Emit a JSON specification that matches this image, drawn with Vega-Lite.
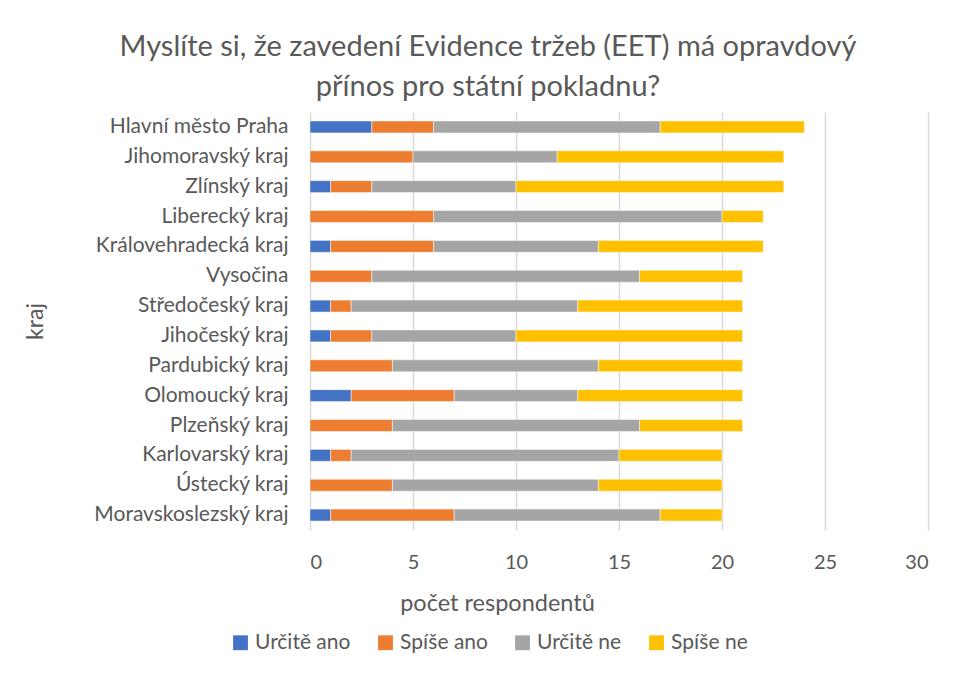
{
  "$schema": "https://vega.github.io/schema/vega-lite/v6.json",
  "width": 618,
  "height": 418,
  "autosize": {"type": "none"},
  "padding": {"left": 310, "top": 112, "right": 27, "bottom": 148},
  "background": "white",
  "title": {
    "text": ["Myslíte si, že zavedení Evidence tržeb (EET) má opravdový", "přínos pro státní pokladnu?"],
    "fontSize": 29,
    "font": "Lato",
    "fontWeight": "normal",
    "color": "#595959",
    "lineHeight": 40,
    "anchor": "middle",
    "dx": -131,
    "offset": 10
  },
  "data": {
    "values": [
      {"kraj": "Hlavní město Praha", "odpoved": "Určitě ano", "o": 1, "n": 3},
      {"kraj": "Hlavní město Praha", "odpoved": "Spíše ano", "o": 2, "n": 3},
      {"kraj": "Hlavní město Praha", "odpoved": "Určitě ne", "o": 3, "n": 11},
      {"kraj": "Hlavní město Praha", "odpoved": "Spíše ne", "o": 4, "n": 7},
      {"kraj": "Jihomoravský kraj", "odpoved": "Určitě ano", "o": 1, "n": 0},
      {"kraj": "Jihomoravský kraj", "odpoved": "Spíše ano", "o": 2, "n": 5},
      {"kraj": "Jihomoravský kraj", "odpoved": "Určitě ne", "o": 3, "n": 7},
      {"kraj": "Jihomoravský kraj", "odpoved": "Spíše ne", "o": 4, "n": 11},
      {"kraj": "Zlínský kraj", "odpoved": "Určitě ano", "o": 1, "n": 1},
      {"kraj": "Zlínský kraj", "odpoved": "Spíše ano", "o": 2, "n": 2},
      {"kraj": "Zlínský kraj", "odpoved": "Určitě ne", "o": 3, "n": 7},
      {"kraj": "Zlínský kraj", "odpoved": "Spíše ne", "o": 4, "n": 13},
      {"kraj": "Liberecký kraj", "odpoved": "Určitě ano", "o": 1, "n": 0},
      {"kraj": "Liberecký kraj", "odpoved": "Spíše ano", "o": 2, "n": 6},
      {"kraj": "Liberecký kraj", "odpoved": "Určitě ne", "o": 3, "n": 14},
      {"kraj": "Liberecký kraj", "odpoved": "Spíše ne", "o": 4, "n": 2},
      {"kraj": "Královehradecká kraj", "odpoved": "Určitě ano", "o": 1, "n": 1},
      {"kraj": "Královehradecká kraj", "odpoved": "Spíše ano", "o": 2, "n": 5},
      {"kraj": "Královehradecká kraj", "odpoved": "Určitě ne", "o": 3, "n": 8},
      {"kraj": "Královehradecká kraj", "odpoved": "Spíše ne", "o": 4, "n": 8},
      {"kraj": "Vysočina", "odpoved": "Určitě ano", "o": 1, "n": 0},
      {"kraj": "Vysočina", "odpoved": "Spíše ano", "o": 2, "n": 3},
      {"kraj": "Vysočina", "odpoved": "Určitě ne", "o": 3, "n": 13},
      {"kraj": "Vysočina", "odpoved": "Spíše ne", "o": 4, "n": 5},
      {"kraj": "Středočeský kraj", "odpoved": "Určitě ano", "o": 1, "n": 1},
      {"kraj": "Středočeský kraj", "odpoved": "Spíše ano", "o": 2, "n": 1},
      {"kraj": "Středočeský kraj", "odpoved": "Určitě ne", "o": 3, "n": 11},
      {"kraj": "Středočeský kraj", "odpoved": "Spíše ne", "o": 4, "n": 8},
      {"kraj": "Jihočeský kraj", "odpoved": "Určitě ano", "o": 1, "n": 1},
      {"kraj": "Jihočeský kraj", "odpoved": "Spíše ano", "o": 2, "n": 2},
      {"kraj": "Jihočeský kraj", "odpoved": "Určitě ne", "o": 3, "n": 7},
      {"kraj": "Jihočeský kraj", "odpoved": "Spíše ne", "o": 4, "n": 11},
      {"kraj": "Pardubický kraj", "odpoved": "Určitě ano", "o": 1, "n": 0},
      {"kraj": "Pardubický kraj", "odpoved": "Spíše ano", "o": 2, "n": 4},
      {"kraj": "Pardubický kraj", "odpoved": "Určitě ne", "o": 3, "n": 10},
      {"kraj": "Pardubický kraj", "odpoved": "Spíše ne", "o": 4, "n": 7},
      {"kraj": "Olomoucký kraj", "odpoved": "Určitě ano", "o": 1, "n": 2},
      {"kraj": "Olomoucký kraj", "odpoved": "Spíše ano", "o": 2, "n": 5},
      {"kraj": "Olomoucký kraj", "odpoved": "Určitě ne", "o": 3, "n": 6},
      {"kraj": "Olomoucký kraj", "odpoved": "Spíše ne", "o": 4, "n": 8},
      {"kraj": "Plzeňský kraj", "odpoved": "Určitě ano", "o": 1, "n": 0},
      {"kraj": "Plzeňský kraj", "odpoved": "Spíše ano", "o": 2, "n": 4},
      {"kraj": "Plzeňský kraj", "odpoved": "Určitě ne", "o": 3, "n": 12},
      {"kraj": "Plzeňský kraj", "odpoved": "Spíše ne", "o": 4, "n": 5},
      {"kraj": "Karlovarský kraj", "odpoved": "Určitě ano", "o": 1, "n": 1},
      {"kraj": "Karlovarský kraj", "odpoved": "Spíše ano", "o": 2, "n": 1},
      {"kraj": "Karlovarský kraj", "odpoved": "Určitě ne", "o": 3, "n": 13},
      {"kraj": "Karlovarský kraj", "odpoved": "Spíše ne", "o": 4, "n": 5},
      {"kraj": "Ústecký kraj", "odpoved": "Určitě ano", "o": 1, "n": 0},
      {"kraj": "Ústecký kraj", "odpoved": "Spíše ano", "o": 2, "n": 4},
      {"kraj": "Ústecký kraj", "odpoved": "Určitě ne", "o": 3, "n": 10},
      {"kraj": "Ústecký kraj", "odpoved": "Spíše ne", "o": 4, "n": 6},
      {"kraj": "Moravskoslezský kraj", "odpoved": "Určitě ano", "o": 1, "n": 1},
      {"kraj": "Moravskoslezský kraj", "odpoved": "Spíše ano", "o": 2, "n": 6},
      {"kraj": "Moravskoslezský kraj", "odpoved": "Určitě ne", "o": 3, "n": 10},
      {"kraj": "Moravskoslezský kraj", "odpoved": "Spíše ne", "o": 4, "n": 3}
    ]
  },
  "mark": {"type": "bar", "stroke": "white", "strokeWidth": 0.6, "strokeOpacity": 0.8},
  "encoding": {
    "y": {
      "field": "kraj",
      "type": "nominal",
      "sort": null,
      "scale": {"paddingInner": 0.6, "paddingOuter": 0.3},
      "axis": {
        "title": "kraj",
        "titleFontSize": 23,
        "titleFontWeight": "normal",
        "titleFont": "Lato",
        "titleColor": "#595959",
        "titleX": -275,
        "titleY": 209,
        "titleAngle": -90,
        "titleBaseline": "middle",
        "titleAlign": "center",
        "labelFontSize": 21,
        "labelFont": "Lato",
        "labelColor": "#595959",
        "labelPadding": 22,
        "labelLimit": 300,
        "ticks": false,
        "domain": false,
        "grid": false
      }
    },
    "x": {
      "field": "n",
      "type": "quantitative",
      "stack": "zero",
      "scale": {"domain": [0, 30], "nice": false},
      "axis": {
        "title": "počet respondentů",
        "titleFontSize": 23.5,
        "titleFontWeight": "normal",
        "titleFont": "Lato",
        "titleColor": "#595959",
        "titleX": 187,
        "titleY": 73,
        "titleBaseline": "middle",
        "titleAlign": "center",
        "values": [0, 5, 10, 15, 20, 25, 30],
        "labelFontSize": 20,
        "labelFont": "Lato",
        "labelColor": "#595959",
        "labelPadding": 22,
        "ticks": false,
        "domain": false,
        "grid": true,
        "gridColor": "#d9d9d9",
        "gridWidth": 1.5
      }
    },
    "color": {
      "field": "odpoved",
      "type": "nominal",
      "sort": ["Určitě ano", "Spíše ano", "Určitě ne", "Spíše ne"],
      "scale": {
        "domain": ["Určitě ano", "Spíše ano", "Určitě ne", "Spíše ne"],
        "range": ["#4472C4", "#ED7D31", "#A5A5A5", "#FFC000"]
      },
      "legend": {
        "title": null,
        "orient": "none",
        "direction": "horizontal",
        "legendX": -80,
        "legendY": 520,
        "symbolType": "square",
        "symbolSize": 220,
        "symbolStrokeWidth": 0,
        "labelFontSize": 21,
        "labelFont": "Lato",
        "labelColor": "#595959",
        "columnPadding": 24,
        "labelOffset": 4
      }
    },
    "order": {"field": "o", "type": "quantitative"}
  },
  "config": {"view": {"stroke": null}}
}
